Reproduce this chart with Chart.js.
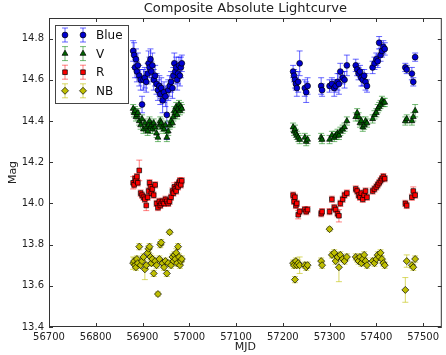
<!DOCTYPE html>
<html>
<head>
<meta charset="utf-8">
<script src="https://cdn.jsdelivr.net/npm/chart.js@4"></script>
<style>body{margin:0;background:#fff}</style>
</head>
<body>
<canvas id="lc" width="446" height="355"></canvas>
<script>
// observation dates (MJD), shared by all four filters
const mjd = [
  56880, 56882, 56884, 56886, 56888, 56890, 56893, 56896, 56899, 56902,
  56905, 56908, 56911, 56913, 56915, 56917, 56919, 56921, 56924, 56927,
  56930, 56933, 56936, 56938, 56940, 56943, 56946, 56949, 56952, 56955,
  56958, 56961, 56964, 56966, 56968, 56970, 56972, 56974, 56976, 56978,
  56980, 56982, 56984,
  57222, 57224, 57226, 57228, 57230, 57233, 57236, 57247, 57250, 57253,
  57282, 57284, 57300, 57305, 57310, 57313, 57317, 57320, 57323, 57328,
  57332, 57337, 57356, 57359, 57362, 57365, 57368, 57371, 57374, 57377,
  57380, 57392, 57396, 57400, 57403, 57406, 57409, 57412, 57415, 57418,
  57462, 57465, 57476, 57479, 57483
];

const blueMag = [
  14.74, 14.72, 14.66, 14.70, 14.64, 14.67, 14.62, 14.60, 14.48, 14.60,
  14.61, 14.59, 14.63, 14.68, 14.66, 14.70, 14.64, 14.67, 14.60, 14.62,
  14.58, 14.55, 14.57, 14.53, 14.56, 14.50, 14.54, 14.52, 14.43, 14.55,
  14.57, 14.59, 14.56, 14.62, 14.68, 14.64, 14.66, 14.60, 14.63, 14.67,
  14.62, 14.66, 14.68,
  14.64, 14.62, 14.60, 14.58, 14.56, 14.59, 14.68, 14.56, 14.54, 14.57,
  14.57, 14.55, 14.57, 14.58, 14.56, 14.57, 14.59, 14.58, 14.64, 14.61,
  14.60, 14.67, 14.67, 14.65, 14.63, 14.64, 14.61, 14.60, 14.62, 14.59,
  14.57, 14.66, 14.68, 14.70, 14.69, 14.78, 14.72, 14.74, 14.76, 14.75,
  14.66, 14.65, 14.63, 14.59, 14.71
];
const blueErr = [
  0.05, 0.06, 0.05, 0.05, 0.05, 0.06, 0.05, 0.05, 0.04, 0.05,
  0.05, 0.05, 0.05, 0.06, 0.05, 0.05, 0.05, 0.06, 0.05, 0.05,
  0.05, 0.05, 0.05, 0.05, 0.05, 0.06, 0.05, 0.05, 0.12, 0.05,
  0.05, 0.05, 0.05, 0.04, 0.05, 0.05, 0.05, 0.05, 0.05, 0.04,
  0.05, 0.05, 0.04,
  0.03, 0.03, 0.04, 0.03, 0.04, 0.05, 0.06, 0.04, 0.05, 0.04,
  0.04, 0.03, 0.03, 0.03, 0.04, 0.03, 0.04, 0.05, 0.04, 0.03,
  0.04, 0.05, 0.03, 0.03, 0.03, 0.03, 0.04, 0.03, 0.03, 0.04,
  0.03, 0.03, 0.03, 0.03, 0.03, 0.03, 0.03, 0.03, 0.03, 0.03,
  0.02, 0.02, 0.03, 0.02, 0.02
];

const vMag = [
  14.46, 14.44, 14.45, 14.42, 14.43, 14.44, 14.40, 14.38, 14.41, 14.36,
  14.39, 14.37, 14.35, 14.38, 14.40, 14.37, 14.38, 14.36, 14.39, 14.37,
  14.34, 14.32, 14.38, 14.40, 14.39, 14.37, 14.36, 14.38, 14.32, 14.35,
  14.38, 14.40, 14.39, 14.42, 14.45, 14.44, 14.47, 14.43, 14.46, 14.48,
  14.45, 14.47, 14.46,
  14.37, 14.35, 14.36, 14.34, 14.33, 14.32, 14.31, 14.32, 14.30, 14.31,
  14.32, 14.31, 14.31, 14.33, 14.32, 14.33, 14.34, 14.33, 14.35, 14.36,
  14.37, 14.40, 14.42, 14.44, 14.42, 14.39, 14.40, 14.37, 14.38, 14.40,
  14.39, 14.41, 14.43, 14.44, 14.46, 14.47, 14.48, 14.50, 14.49, 14.49,
  14.40, 14.41, 14.40, 14.42, 14.45
];
const vErr = [
  0.02, 0.02, 0.02, 0.02, 0.02, 0.02, 0.02, 0.02, 0.02, 0.02,
  0.02, 0.02, 0.02, 0.02, 0.02, 0.03, 0.02, 0.02, 0.02, 0.02,
  0.02, 0.02, 0.02, 0.02, 0.02, 0.02, 0.02, 0.02, 0.02, 0.02,
  0.02, 0.02, 0.02, 0.02, 0.02, 0.02, 0.02, 0.02, 0.02, 0.02,
  0.02, 0.02, 0.02,
  0.02, 0.02, 0.02, 0.02, 0.02, 0.02, 0.02, 0.02, 0.02, 0.02,
  0.02, 0.02, 0.02, 0.02, 0.02, 0.02, 0.02, 0.02, 0.02, 0.02,
  0.02, 0.02, 0.02, 0.02, 0.02, 0.02, 0.02, 0.02, 0.02, 0.02,
  0.02, 0.02, 0.02, 0.02, 0.02, 0.02, 0.02, 0.02, 0.02, 0.02,
  0.02, 0.02, 0.02, 0.02, 0.03
];

const rMag = [
  14.10, 14.09, 14.12, 14.11, 14.13, 14.10, 14.16, 14.05, 14.04, 14.03,
  14.02, 13.99, 14.03, 14.06, 14.10, 14.08, 14.05, 14.07, 14.04, 14.09,
  14.00, 13.98, 14.01, 13.99, 14.00, 14.01, 14.00, 14.02, 14.01, 14.00,
  14.01, 14.03, 14.06, 14.05, 14.08, 14.07, 14.06, 14.09, 14.08, 14.10,
  14.11, 14.09, 14.11,
  14.04, 14.01, 14.03, 13.99, 14.00, 13.945, 13.96, 13.97, 13.96, 13.97,
  13.95, 13.96, 13.96, 14.02, 13.98, 13.97, 13.95, 13.94, 14.00, 14.02,
  14.04, 14.05, 14.07, 14.06, 14.04, 14.03, 14.05, 14.02, 14.04, 14.06,
  14.03, 14.06, 14.07, 14.08, 14.09, 14.10, 14.11, 14.12, 14.13, 14.12,
  14.00, 13.99, 14.03, 14.06, 14.04
];
const rErr = [
  0.03, 0.015, 0.015, 0.015, 0.015, 0.015, 0.05, 0.015, 0.015, 0.015,
  0.015, 0.025, 0.015, 0.015, 0.015, 0.02, 0.015, 0.015, 0.015, 0.015,
  0.015, 0.015, 0.015, 0.015, 0.015, 0.015, 0.015, 0.015, 0.015, 0.015,
  0.015, 0.015, 0.015, 0.015, 0.02, 0.015, 0.015, 0.015, 0.015, 0.015,
  0.015, 0.015, 0.015,
  0.015, 0.015, 0.015, 0.015, 0.015, 0.02, 0.015, 0.015, 0.015, 0.015,
  0.015, 0.015, 0.015, 0.015, 0.015, 0.015, 0.015, 0.03, 0.015, 0.015,
  0.015, 0.015, 0.015, 0.015, 0.015, 0.015, 0.015, 0.015, 0.015, 0.015,
  0.015, 0.015, 0.015, 0.015, 0.015, 0.015, 0.015, 0.015, 0.015, 0.015,
  0.015, 0.015, 0.015, 0.02, 0.015
];

const nbMag = [
  13.71, 13.72, 13.70, 13.69, 13.73, 13.71, 13.79, 13.70, 13.72, 13.74,
  13.68, 13.70, 13.76, 13.78, 13.79, 13.74, 13.71, 13.73, 13.66, 13.72,
  13.70, 13.56, 13.73, 13.80, 13.81, 13.71, 13.69, 13.72, 13.66, 13.71,
  13.86, 13.70, 13.74, 13.72, 13.75, 13.73, 13.76, 13.71, 13.79, 13.74,
  13.70, 13.72, 13.73,
  13.71, 13.70, 13.63, 13.72, 13.70, 13.71, 13.70, 13.70, 13.69, 13.70,
  13.72, 13.70, 13.875, 13.75, 13.76, 13.72, 13.74, 13.69, 13.75, 13.73,
  13.72, 13.74, 13.74, 13.73, 13.72, 13.74, 13.71, 13.73, 13.75, 13.72,
  13.70, 13.72, 13.71, 13.73, 13.75, 13.74, 13.76, 13.73, 13.71, 13.70,
  13.58, 13.72, 13.70, 13.69, 13.73
];
const nbErr = [
  0.03, 0.015, 0.015, 0.015, 0.015, 0.015, 0.015, 0.015, 0.015, 0.015,
  0.05, 0.015, 0.015, 0.015, 0.015, 0.015, 0.015, 0.015, 0.015, 0.015,
  0.015, 0.01, 0.015, 0.015, 0.015, 0.015, 0.015, 0.015, 0.015, 0.015,
  0.01, 0.015, 0.015, 0.015, 0.015, 0.015, 0.02, 0.015, 0.015, 0.015,
  0.015, 0.015, 0.015,
  0.015, 0.015, 0.015, 0.015, 0.015, 0.015, 0.04, 0.015, 0.015, 0.015,
  0.015, 0.015, 0.01, 0.015, 0.015, 0.015, 0.015, 0.07, 0.015, 0.015,
  0.015, 0.015, 0.015, 0.015, 0.015, 0.015, 0.015, 0.015, 0.015, 0.015,
  0.015, 0.015, 0.015, 0.015, 0.015, 0.015, 0.015, 0.015, 0.015, 0.015,
  0.06, 0.03, 0.015, 0.015, 0.015
];

const xTicks = [56700, 56800, 56900, 57000, 57100, 57200, 57300, 57400, 57500];
const yTicks = [13.4, 13.6, 13.8, 14.0, 14.2, 14.4, 14.6, 14.8];

Chart.defaults.font.family = 'DejaVu Sans';
Chart.defaults.color = '#222';

function series(label, mags, errs, fill, errColor, style, r) {
  return {
    label: label,
    data: mjd.map((d, i) => ({ x: d, y: mags[i] })),
    errors: errs,
    errColor: errColor,
    backgroundColor: fill,
    borderColor: '#000',
    borderWidth: 0.7,
    pointStyle: style,
    pointRadius: r,
    pointHoverRadius: r,
    showLine: false
  };
}

function errBar(ctx, px, y0, y1) {
  ctx.beginPath();
  ctx.moveTo(px, y0); ctx.lineTo(px, y1);
  ctx.moveTo(px - 3, y0); ctx.lineTo(px + 3, y0);
  ctx.moveTo(px - 3, y1); ctx.lineTo(px + 3, y1);
  ctx.stroke();
}

// vertical error bars with caps, behind the markers
const errorBars = {
  id: 'errorBars',
  beforeDatasetsDraw(chart) {
    const { ctx, chartArea: a, scales: { x, y } } = chart;
    ctx.save();
    ctx.beginPath();
    ctx.rect(a.left, a.top, a.right - a.left, a.bottom - a.top);
    ctx.clip();
    ctx.lineWidth = 1;
    chart.data.datasets.forEach(ds => {
      ctx.strokeStyle = ds.errColor;
      ds.data.forEach((p, j) => {
        const e = ds.errors[j];
        errBar(ctx, x.getPixelForValue(p.x), y.getPixelForValue(p.y - e), y.getPixelForValue(p.y + e));
      });
    });
    ctx.restore();
  }
};

// frame, inward ticks on all sides, legend box
const frame = {
  id: 'frame',
  afterDraw(chart) {
    const { ctx, chartArea: a, scales: { x, y } } = chart;
    ctx.save();
    ctx.strokeStyle = '#333';
    ctx.lineWidth = 1;
    ctx.strokeRect(a.left + 0.5, a.top + 0.5, a.right - a.left - 1, a.bottom - a.top - 1);
    ctx.beginPath();
    xTicks.forEach(t => {
      const px = Math.round(x.getPixelForValue(t)) + 0.5;
      ctx.moveTo(px, a.bottom); ctx.lineTo(px, a.bottom - 4);
      ctx.moveTo(px, a.top); ctx.lineTo(px, a.top + 4);
    });
    yTicks.forEach(t => {
      const py = Math.round(y.getPixelForValue(t)) + 0.5;
      ctx.moveTo(a.left, py); ctx.lineTo(a.left + 4, py);
      ctx.moveTo(a.right, py); ctx.lineTo(a.right - 4, py);
    });
    ctx.stroke();

    const lx = a.left + 6, ly = a.top + 7, lw = 73, lh = 78;
    ctx.fillStyle = '#fff';
    ctx.fillRect(lx, ly, lw, lh);
    ctx.strokeStyle = '#444';
    ctx.strokeRect(lx + 0.5, ly + 0.5, lw, lh);
    ctx.font = '12px "DejaVu Sans"';
    ctx.textBaseline = 'middle';
    chart.data.datasets.forEach((ds, i) => {
      const cy = ly + 10 + i * 18.6;
      [lx + 10, lx + 28].forEach(cx => {
        ctx.strokeStyle = ds.errColor;
        ctx.lineWidth = 1;
        errBar(ctx, cx, cy - 7, cy + 7);
        ctx.fillStyle = ds.backgroundColor;
        ctx.strokeStyle = ds.borderColor;
        ctx.lineWidth = ds.borderWidth;
        Chart.helpers.drawPoint(ctx, {
          pointStyle: ds.pointStyle, radius: ds.pointRadius, rotation: 0, borderWidth: ds.borderWidth
        }, cx, cy);
      });
      ctx.fillStyle = '#111';
      ctx.fillText(ds.label, lx + 41, cy + 1);
    });
    ctx.restore();
  }
};

new Chart(document.getElementById('lc'), {
  type: 'scatter',
  data: {
    datasets: [
      series('Blue', blueMag, blueErr, '#0000d0', 'rgba(0,0,255,0.6)', 'circle', 2.9),
      series('V', vMag, vErr, '#006400', 'rgba(0,128,0,0.55)', 'triangle', 3.4),
      series('R', rMag, rErr, '#ff0000', 'rgba(255,0,0,0.5)', 'rect', 3.3),
      series('NB', nbMag, nbErr, '#bfbf00', 'rgba(191,191,0,0.6)', 'rectRot', 3.5)
    ]
  },
  options: {
    responsive: false,
    animation: false,
    events: [],
    layout: { padding: { right: 1 } },
    plugins: {
      legend: { display: false },
      tooltip: { enabled: false },
      title: {
        display: true,
        text: 'Composite Absolute Lightcurve',
        font: { size: 13, weight: 'normal' },
        color: '#222',
        fullSize: false,
        padding: { top: 1, bottom: 1.4 }
      }
    },
    scales: {
      x: {
        type: 'linear',
        min: 56700,
        max: 57540,
        afterBuildTicks: s => { s.ticks = xTicks.map(v => ({ value: v })); },
        ticks: { font: { size: 10 }, padding: 4, maxRotation: 0, autoSkip: false, callback: v => String(v) },
        grid: { display: false, drawTicks: false },
        border: { display: false },
        title: { display: true, text: 'MJD', font: { size: 11 }, padding: { top: 0, bottom: 1 } },
        afterFit: s => { s.height = 28; }
      },
      y: {
        type: 'linear',
        min: 13.4,
        max: 14.9,
        afterBuildTicks: s => { s.ticks = yTicks.map(v => ({ value: v })); },
        ticks: { font: { size: 10 }, padding: 5, callback: v => v.toFixed(1) },
        grid: { display: false, drawTicks: false },
        border: { display: false },
        title: { display: true, text: 'Mag', font: { size: 11 }, padding: { top: 7, bottom: 0 } },
        afterFit: s => { s.width = 49; }
      }
    }
  },
  plugins: [errorBars, frame]
});
</script>
</body>
</html>
